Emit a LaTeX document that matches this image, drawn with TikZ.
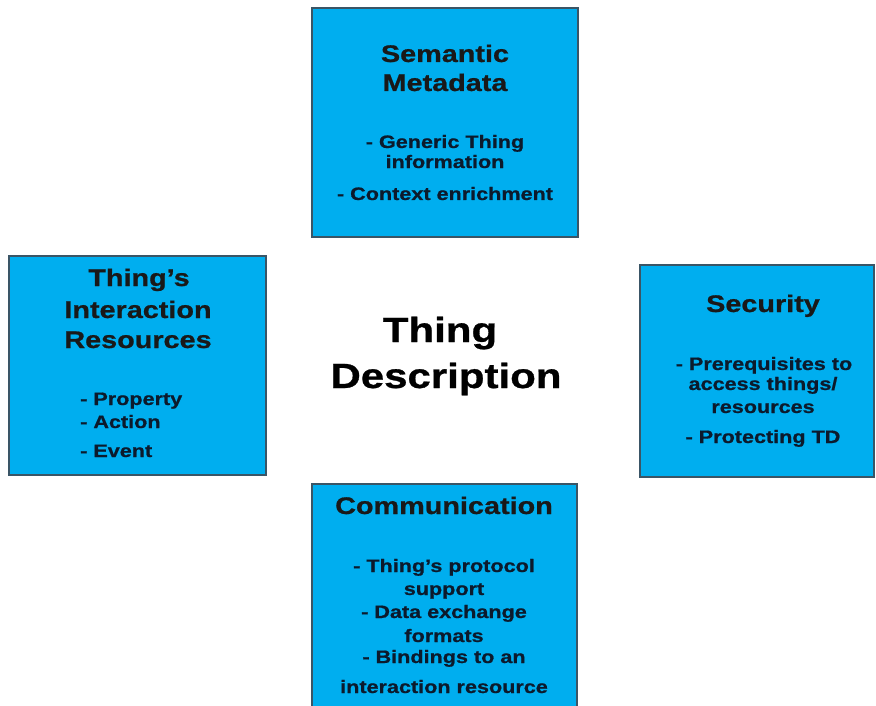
\documentclass[tikz,border=0pt]{standalone}
\usepackage{fontspec}
\setmainfont{Liberation Sans}[FakeStretch=1.2, BoldFeatures={FakeBold=0.8}]
\definecolor{tdblue}{HTML}{00AEEF}
\definecolor{tdedge}{HTML}{3A5566}
\definecolor{tdtext}{HTML}{0C1A2C}
\tikzset{
  panel/.style={draw=tdedge, fill=tdblue, line width=1.2pt, inner sep=0pt},
  headline/.style={anchor=base, inner sep=0pt, text=black!90,
    font=\bfseries\fontsize{24}{28}\selectfont},
  itemline/.style={anchor=base, inner sep=0pt, text=tdtext,
    font=\bfseries\fontsize{18}{21}\selectfont},
  itemleft/.style={itemline, anchor=base west},
  hubline/.style={anchor=base, inner sep=0pt, text=black,
    font=\bfseries\fontsize{35}{40}\selectfont}
}
\begin{document}
\begin{tikzpicture}[x=1pt, y=-1pt]
\clip (0,0) rectangle (876,706);
\fill[white] (0,0) rectangle (876,706);

% four panels around the title
\node[panel, minimum width=266pt, minimum height=229pt] (meta) at (445,122.5) {};
\node[panel, minimum width=257pt, minimum height=219pt] (inter) at (137.5,365.5) {};
\node[panel, minimum width=234pt, minimum height=212pt] (sec) at (757,371) {};
\node[panel, minimum width=265pt, minimum height=240pt] (comm) at (444.5,604) {};

% central title
\node[hubline] (hub1) at (440,342) {Thing};
\node[hubline] (hub2) at (446,388) {Description};

% Semantic Metadata
\node[headline] (meta1) at (445,62) {Semantic};
\node[headline] (meta2) at (445,91) {Metadata};
\node[itemline] (meta3) at (445,148) {- Generic Thing};
\node[itemline] (meta4) at (445,168) {information};
\node[itemline] (meta5) at (445,200) {- Context enrichment};

% Thing's Interaction Resources
\node[headline] (inter1) at (139,286) {Thing’s};
\node[headline] (inter2) at (138,318) {Interaction};
\node[headline] (inter3) at (138,348) {Resources};
\node[itemleft] (inter4) at (80,405) {- Property};
\node[itemleft] (inter5) at (80,428) {- Action};
\node[itemleft] (inter6) at (80,457) {- Event};

% Security
\node[headline] (sec1) at (763,312) {Security};
\node[itemline] (sec2) at (764,370) {- Prerequisites to};
\node[itemline] (sec3) at (763,390) {access things/};
\node[itemline] (sec4) at (763,413) {resources};
\node[itemline] (sec5) at (763,443) {- Protecting TD};

% Communication
\node[headline] (comm1) at (444,514) {Communication};
\node[itemline] (comm2) at (444,572) {- Thing’s protocol};
\node[itemline] (comm3) at (444,595) {support};
\node[itemline] (comm4) at (444,618) {- Data exchange};
\node[itemline] (comm5) at (444,642) {formats};
\node[itemline] (comm6) at (444,663) {- Bindings to an};
\node[itemline] (comm7) at (444,693) {interaction resource};
\end{tikzpicture}
\end{document}
